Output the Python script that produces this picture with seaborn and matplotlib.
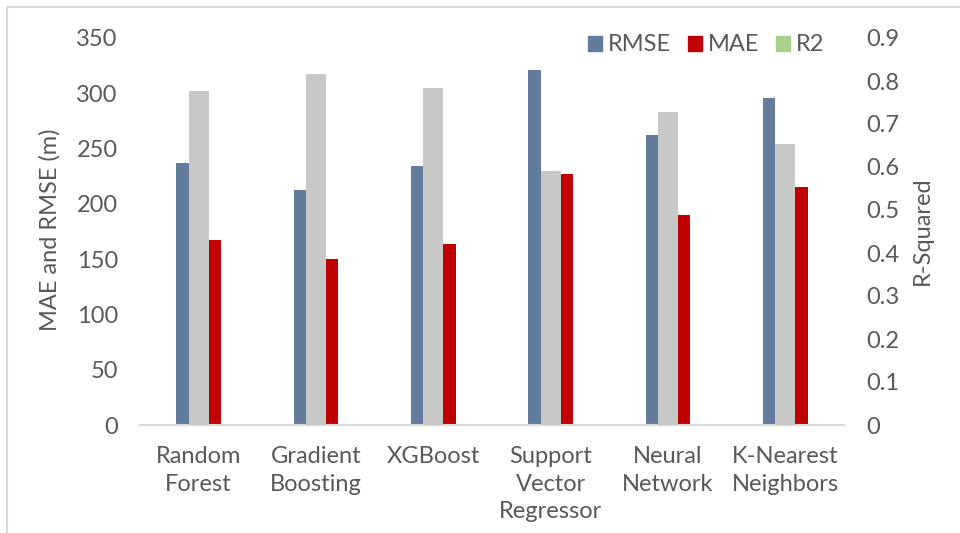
import numpy as np
import pandas as pd
import matplotlib
matplotlib.use("Agg")
import matplotlib.pyplot as plt
from matplotlib.patches import Patch
import seaborn as sns

# Model comparison metrics
models = ["Random\nForest", "Gradient\nBoosting", "XGBoost",
          "Support\nVector\nRegressor", "Neural\nNetwork", "K-Nearest\nNeighbors"]
rmse = [237, 212.5, 234, 321, 262, 296]
mae = [167, 150, 164, 227, 190, 215]
r2 = [0.777, 0.816, 0.784, 0.591, 0.728, 0.653]

C_RMSE = "#647C9B"
C_MAE = "#C00000"
C_R2 = "#C8C8C8"
C_R2_KEY = "#A9D18E"
TXT = "#595959"
GRID = "#D9D9D9"
FS = 17

sns.set_theme(style="white")
plt.rcParams["font.family"] = ["Lato", "DejaVu Sans"]

fig = plt.figure(figsize=(9.6, 5.33), dpi=100)
ax = fig.add_axes([140 / 960, 1 - 425 / 533, 704 / 960, 387 / 533])
ax2 = ax.twinx()

idx = np.arange(len(models))
w_side, w_mid = 0.105, 0.17
off = (w_side + w_mid) / 2

df = pd.DataFrame({"pos": idx, "rmse": rmse, "mae": mae, "r2": r2})

sns.barplot(x=df["pos"] - off, y=df["rmse"], native_scale=True, width=w_side,
            color=C_RMSE, saturation=1, linewidth=0, ax=ax)
sns.barplot(x=df["pos"] + off, y=df["mae"], native_scale=True, width=w_side,
            color=C_MAE, saturation=1, linewidth=0, ax=ax)
sns.barplot(x=df["pos"], y=df["r2"], native_scale=True, width=w_mid,
            color=C_R2, saturation=1, linewidth=0, ax=ax2)

for a in (ax, ax2):
    a.set_xlim(-0.5, len(models) - 0.5)
    a.set_xlabel("")
    a.set_ylabel("")
    for s in a.spines.values():
        s.set_visible(False)
    a.tick_params(length=0, labelsize=FS, labelcolor=TXT)

ax.spines["bottom"].set_visible(True)
ax.spines["bottom"].set_color(GRID)
ax.spines["bottom"].set_linewidth(1.5)

ax.set_ylim(0, 350)
ax.set_yticks(np.arange(0, 351, 50))
ax2.set_ylim(0, 0.9)
ax2.set_yticks(np.arange(0, 0.91, 0.1))
ax2.set_yticklabels(["0"] + [f"{v:.1f}" for v in np.arange(0.1, 0.91, 0.1)])
ax.tick_params(axis="y", pad=16)
ax2.tick_params(axis="y", pad=16)

ax.set_xticks(idx)
ax.set_xticklabels(models, linespacing=1.4)
ax.tick_params(axis="x", pad=15)

fig.text(50 / 960, 1 - 230 / 533, "MAE and RMSE (m)", rotation=90,
         ha="center", va="center", fontsize=FS, color=TXT)
fig.text(922 / 960, 1 - 231 / 533, "R-Squared", rotation=90,
         ha="center", va="center", fontsize=FS, color=TXT)

handles = [Patch(color=C_RMSE, label="RMSE"),
           Patch(color=C_MAE, label="MAE"),
           Patch(color=C_R2_KEY, label="R2")]
leg = fig.legend(handles=handles, loc="center", bbox_to_anchor=(706 / 960, 1 - 45 / 533),
                 ncol=3, frameon=False, fontsize=FS, handlelength=0.6, handleheight=0.6,
                 handletextpad=0.25, columnspacing=0.7)
for t in leg.get_texts():
    t.set_color(TXT)

# chart frame edges
fig.add_artist(plt.Line2D([6.5 / 960, 6.5 / 960], [0, 1 - 6.5 / 533], color=GRID, lw=1.5))
fig.add_artist(plt.Line2D([6.5 / 960, 1], [1 - 6.5 / 533, 1 - 6.5 / 533], color=GRID, lw=1.5))

fig.savefig("out.png", dpi=100)
